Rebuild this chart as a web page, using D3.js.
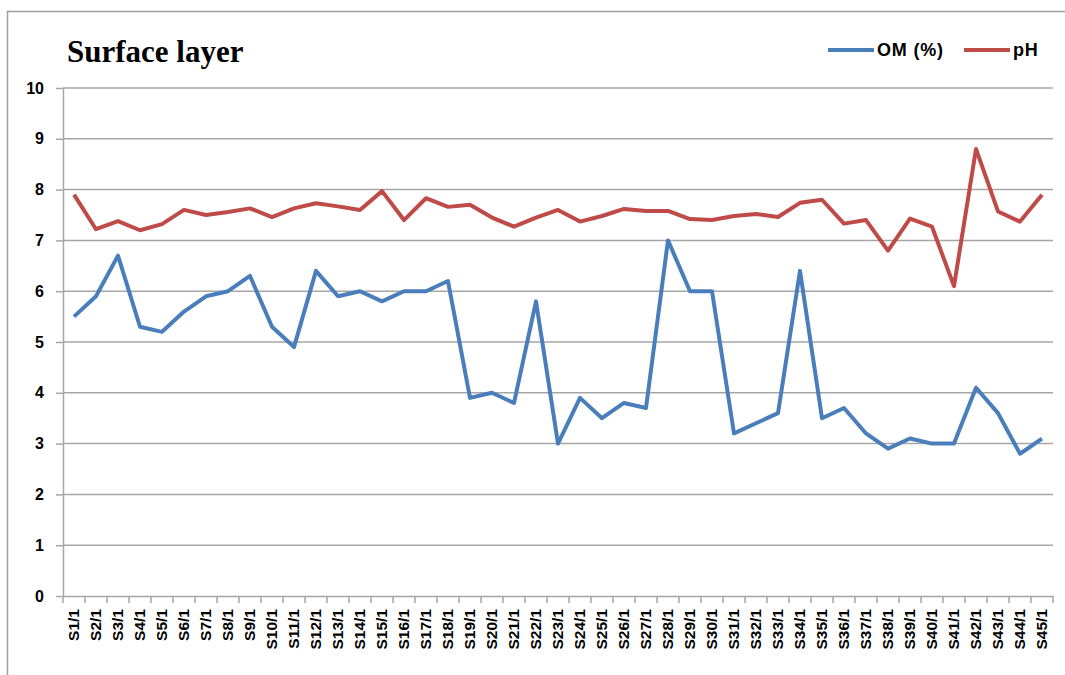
<!DOCTYPE html>
<html lang="en">
<head>
<meta charset="UTF-8"/>
<title>Surface layer</title>
<script src="https://d3js.org/d3.v7.min.js"></script>
<style>
    body { margin: 0; background: #fff; }
    text { font-family: "Liberation Sans", Arial, sans-serif; }
    .grid line { stroke: #a6a6a6; stroke-width: 1.5px; }
    .axis path, .axis line { fill: none; stroke: #a6a6a6; stroke-width: 1.5px; }
    .axis text { font-weight: bold; fill: #000; }
    path.line { fill: none; stroke-width: 4px; stroke-linejoin: round; }
</style>
</head>
<body>
<script>
// data
var samples = d3.range(1, 46).map(function (i) { return "S" + i + "/1"; });
var om = [5.5, 5.9, 6.7, 5.3, 5.2, 5.6, 5.9, 6.0, 6.3, 5.3,
          4.9, 6.4, 5.9, 6.0, 5.8, 6.0, 6.0, 6.2, 3.9, 4.0,
          3.8, 5.8, 3.0, 3.9, 3.5, 3.8, 3.7, 7.0, 6.0, 6.0,
          3.2, 3.4, 3.6, 6.4, 3.5, 3.7, 3.2, 2.9, 3.1, 3.0,
          3.0, 4.1, 3.6, 2.8, 3.1];
var ph = [7.9, 7.22, 7.38, 7.2, 7.32, 7.6, 7.5, 7.56, 7.63, 7.46,
          7.63, 7.73, 7.67, 7.6, 7.97, 7.4, 7.83, 7.66, 7.7, 7.45,
          7.27, 7.45, 7.6, 7.37, 7.48, 7.62, 7.58, 7.58, 7.42, 7.4,
          7.48, 7.52, 7.46, 7.74, 7.8, 7.33, 7.4, 6.8, 7.43, 7.27,
          6.1, 8.8, 7.57, 7.37, 7.9];
var yTicks = [0, 1, 2, 3, 4, 5, 6, 7, 8, 9, 10];
var series = [
    {name: "OM (%)", values: om, color: "#4a7ebb"},
    {name: "pH", values: ph, color: "#be4b48"}
];

var W = 1065, H = 675;
var margin = {top: 88, right: 12, bottom: 79, left: 63},
    width = W - margin.left - margin.right,
    height = H - margin.top - margin.bottom;

var svg = d3.select("body").append("svg")
    .attr("width", W)
    .attr("height", H);

// outer chart border
svg.append("rect")
    .attr("x", 7.5).attr("y", 11.5)
    .attr("width", W + 10).attr("height", H + 10)
    .attr("fill", "none")
    .attr("stroke", "#a0a0a0")
    .attr("stroke-width", 1.5);

var g = svg.append("g")
    .attr("transform", "translate(" + margin.left + "," + margin.top + ")");

var x = d3.scaleBand().domain(samples).range([0, width]);
var y = d3.scaleLinear().domain([0, 10]).range([height, 0]);

// gridlines
g.append("g").attr("class", "grid")
    .selectAll("line")
    .data(yTicks.slice(1))
    .enter().append("line")
    .attr("x1", 0).attr("x2", width)
    .attr("y1", function (d) { return y(d); })
    .attr("y2", function (d) { return y(d); });

// y axis
var yAxis = g.append("g").attr("class", "axis")
    .call(d3.axisLeft(y).tickValues(yTicks).tickSize(7).tickSizeOuter(0).tickPadding(12));
yAxis.selectAll("text").style("font-size", "16px");

// x axis: ticks between categories
var xAxis = g.append("g").attr("class", "axis")
    .attr("transform", "translate(0," + height + ")")
    .call(d3.axisBottom(x).tickSize(0).tickSizeOuter(0));
xAxis.selectAll(".tick text")
    .style("font-size", "15.5px")
    .attr("transform", "rotate(-90)")
    .attr("text-anchor", "end")
    .attr("x", -13)
    .attr("y", 0)
    .attr("dy", "0.35em");
xAxis.append("g")
    .selectAll("line")
    .data(d3.range(samples.length + 1))
    .enter().append("line")
    .attr("x1", function (i) { return i * x.step(); })
    .attr("x2", function (i) { return i * x.step(); })
    .attr("y1", 0).attr("y2", 7);

// lines
var line = d3.line()
    .x(function (d, i) { return x(samples[i]) + x.bandwidth() / 2; })
    .y(function (d) { return y(d); });

g.selectAll("path.line")
    .data(series)
    .enter().append("path")
    .attr("class", "line")
    .attr("stroke", function (d) { return d.color; })
    .attr("d", function (d) { return line(d.values); });

// title
svg.append("text")
    .attr("x", 67).attr("y", 62)
    .style("font-family", "'Liberation Serif', 'Times New Roman', serif")
    .style("font-weight", "bold")
    .style("font-size", "31px")
    .text("Surface layer");

// legend
var legendX = [828, 964];
var leg = svg.selectAll("g.legend")
    .data(series)
    .enter().append("g")
    .attr("class", "legend")
    .attr("transform", function (d, i) { return "translate(" + legendX[i] + ",50)"; });
leg.append("line")
    .attr("x1", 0).attr("x2", 46)
    .attr("stroke", function (d) { return d.color; })
    .attr("stroke-width", 4);
leg.append("text")
    .attr("x", 49).attr("dy", "0.36em")
    .style("font-weight", "bold")
    .style("font-size", "18px")
    .style("letter-spacing", "0.8px")
    .text(function (d) { return d.name; });
</script>
</body>
</html>
